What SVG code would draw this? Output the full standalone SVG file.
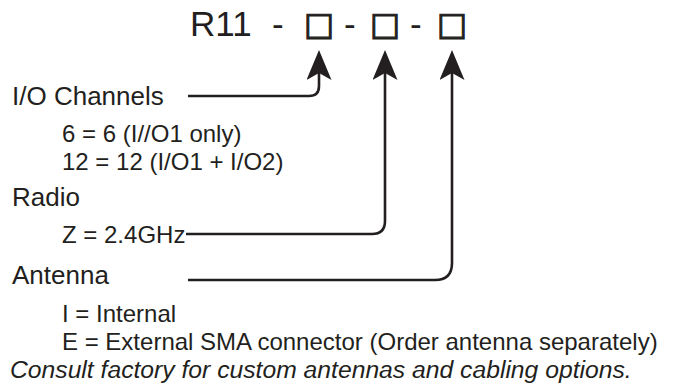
<svg xmlns="http://www.w3.org/2000/svg" width="674" height="387" viewBox="0 0 674 387">
<style>
.t{font-family:"Liberation Sans",Arial,sans-serif;font-size:24px;fill:#231f20}
.h{font-size:26px}
.bx{font-family:"DejaVu Sans",sans-serif;stroke:#231f20;stroke-width:1.1}
.ln{fill:none;stroke:#231f20;stroke-width:2.6}
</style>
<defs>
<marker id="ah" viewBox="0 0 30 25" refX="7" refY="12.5" markerWidth="30" markerHeight="25" markerUnits="userSpaceOnUse" orient="auto-start-reverse">
<path d="M30 12.5 L0 0 L7 12.5 L0 25 Z" fill="#231f20"/>
</marker>
</defs>
<rect width="674" height="387" fill="#fff"/>
<g id="title">
<text y="36" class="t" style="font-size:35px"><tspan x="190">R11</tspan><tspan x="272">-</tspan><tspan x="304" y="35" class="bx" style="font-size:32px">□</tspan><tspan x="344" y="36">-</tspan><tspan x="370" y="35" class="bx" style="font-size:32px">□</tspan><tspan x="410" y="36">-</tspan><tspan x="437" y="35" class="bx" style="font-size:32px">□</tspan></text>
</g>
<g id="connectors">
<path class="ln" d="M319 73 V86 Q319 96 309 96 H188" marker-start="url(#ah)"/>
<path class="ln" d="M385 73 V221 Q385 234 372 234 H186" marker-start="url(#ah)"/>
<path class="ln" d="M452 73 V263 Q452 280 435 280 H188" marker-start="url(#ah)"/>
</g>
<g id="io">
<text x="12" y="105" class="t h">I/O Channels</text>
<text x="62" y="142" class="t">6 = 6 (I//O1 only)</text>
<text x="62" y="170" class="t">12 = 12 (I/O1 + I/O2)</text>
</g>
<g id="radio">
<text x="12" y="206" class="t h">Radio</text>
<text x="62" y="243" class="t">Z = 2.4GHz</text>
</g>
<g id="antenna">
<text x="12" y="284" class="t h">Antenna</text>
<text x="62" y="322" class="t">I = Internal</text>
<text x="62" y="350" class="t">E = External SMA connector (Order antenna separately)</text>
<text x="10" y="378" class="t" style="font-size:24.7px" font-style="italic">Consult factory for custom antennas and cabling options.</text>
</g>
</svg>
